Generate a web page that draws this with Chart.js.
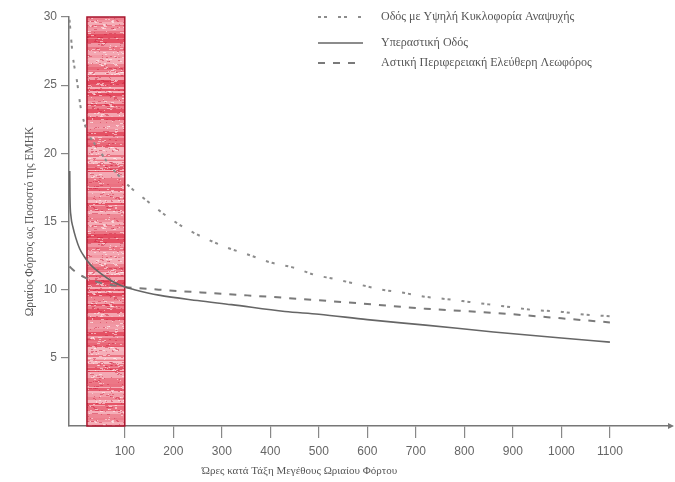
<!DOCTYPE html>
<html>
<head>
<meta charset="utf-8">
<script src="https://cdn.jsdelivr.net/npm/chart.js@4.4.1/dist/chart.umd.min.js"></script>
<style>
  html, body { margin: 0; padding: 0; background: #fff; }
  #wrap { width: 675px; height: 482px; }
</style>
</head>
<body>
<div id="wrap"><canvas id="loadChart"></canvas></div>
<script>
// series labels
const seriesNames = [
  "Οδός με Υψηλή Κυκλοφορία Αναψυχής",
  "Υπεραστική Οδός",
  "Αστική Περιφερειακή Ελεύθερη Λεωφόρος"
];

// Οδός με Υψηλή Κυκλοφορία Αναψυχής
const recreationHours = [-14, -7, 1, 11, 50, 100, 150, 190, 230, 270, 310, 360, 400, 450, 490, 530, 580, 630, 670, 715, 765, 810, 855, 900, 945, 995, 1040, 1100];
const recreationLoad = [29.8, 27.1, 25.4, 23.0, 20.1, 17.9, 16.4, 15.3, 14.4, 13.7, 13.1, 12.5, 12.0, 11.6, 11.1, 10.8, 10.4, 10.0, 9.8, 9.5, 9.3, 9.1, 8.9, 8.7, 8.5, 8.4, 8.2, 8.05];

// Υπεραστική Οδός
const ruralHours = [-13.5, -13, -11, -7, -1, 7, 17, 30, 50, 75, 100, 120, 170, 250, 320, 430, 500, 600, 720, 860, 1000, 1100];
const ruralLoad = [18.7, 16.8, 15.4, 14.6, 13.8, 13.0, 12.4, 11.8, 11.2, 10.6, 10.2, 10.0, 9.6, 9.2, 8.9, 8.4, 8.2, 7.8, 7.4, 6.9, 6.45, 6.15];

// Αστική Περιφερειακή Ελεύθερη Λεωφόρος
const urbanHours = [-14, -5, 17, 50, 100, 170, 300, 430, 600, 720, 860, 1000, 1100];
const urbanLoad = [11.7, 11.4, 10.9, 10.5, 10.2, 10.0, 9.7, 9.4, 8.95, 8.6, 8.3, 7.9, 7.6];

// shaded band of hours and axis ticks
const bandHours = [22, 100];
const xTickValues = [100, 200, 300, 400, 500, 600, 700, 800, 900, 1000, 1100];
const yTickValues = [5, 10, 15, 20, 25, 30];

const xTitle = "Ώρες κατά Τάξη Μεγέθους Ωριαίου Φόρτου";
const yTitle = "Ωριαίος Φόρτος ως Ποσοστό της ΕΜΗΚ";

function toPoints(xs, ys) {
  return xs.map((x, i) => ({ x: x, y: ys[i] }));
}

// texture for the red band (just decoration)
function makeBandPattern(ctx) {
  const c = document.createElement("canvas");
  c.width = 40; c.height = 200;
  const g = c.getContext("2d");
  g.fillStyle = "rgb(228,72,92)";
  g.fillRect(0, 0, 40, 200);
  let seed = 11;
  const rnd = () => { seed = (seed * 9301 + 49297) % 233280; return seed / 233280; };
  let y = 0;
  while (y < 200) {
    const h = 1 + Math.floor(rnd() * 4);
    const a = rnd() * 0.75;
    g.fillStyle = "rgba(255,235,238," + a.toFixed(2) + ")";
    g.fillRect(0, y, 40, h);
    y += h;
  }
  for (let i = 0; i < 700; i++) {
    const r = rnd();
    g.fillStyle = r > 0.55 ? "rgba(255,245,245,0.55)" : "rgba(205,30,60,0.45)";
    g.fillRect(Math.floor(rnd() * 40), Math.floor(rnd() * 200), 1 + Math.floor(rnd() * 3), 1);
  }
  return ctx.createPattern(c, "repeat");
}

const bandPlugin = {
  id: "band",
  beforeDatasetsDraw(chart) {
    const { ctx, scales } = chart;
    const x1 = scales.x.getPixelForValue(bandHours[0]);
    const x2 = scales.x.getPixelForValue(bandHours[1]);
    const y1 = scales.y.getPixelForValue(30);
    const y2 = scales.y.getPixelForValue(0);
    ctx.save();
    ctx.fillStyle = makeBandPattern(ctx);
    ctx.fillRect(x1, y1, x2 - x1, y2 - y1);
    ctx.strokeStyle = "#a8142c";
    ctx.lineWidth = 1.5;
    ctx.strokeRect(x1, y1, x2 - x1, y2 - y1);
    ctx.restore();
  }
};

const extrasPlugin = {
  id: "extras",
  afterDraw(chart) {
    const { ctx, chartArea, scales } = chart;
    ctx.save();
    // arrow at end of x axis
    const ay = scales.y.getPixelForValue(0);
    ctx.fillStyle = "#777";
    ctx.beginPath();
    ctx.moveTo(chartArea.right + 2, ay);
    ctx.lineTo(chartArea.right - 4, ay - 3);
    ctx.lineTo(chartArea.right - 4, ay + 3);
    ctx.closePath();
    ctx.fill();

    // x axis title
    ctx.fillStyle = "#555";
    ctx.font = "11px 'Liberation Serif'";
    ctx.textAlign = "center";
    ctx.textBaseline = "middle";
    ctx.fillText(xTitle, scales.x.getPixelForValue(460), 471);

    // legend
    ctx.font = "12px 'Liberation Serif'";
    ctx.textAlign = "left";
    const rows = [17, 43, 63];
    chart.data.datasets.forEach((ds, i) => {
      const y = rows[i];
      ctx.strokeStyle = ds.borderColor;
      ctx.lineWidth = ds.borderWidth;
      ctx.setLineDash(ds.borderDash || []);
      ctx.beginPath();
      ctx.moveTo(318, y);
      ctx.lineTo(363, y);
      ctx.stroke();
      ctx.setLineDash([]);
      ctx.fillStyle = "#555";
      ctx.fillText(ds.label, 381, y);
    });
    ctx.restore();
  }
};

const ctx = document.getElementById("loadChart").getContext("2d");
new Chart(ctx, {
  type: "line",
  data: {
    datasets: [
      {
        label: seriesNames[0],
        data: toPoints(recreationHours, recreationLoad),
        borderColor: "#8c8c8c",
        borderWidth: 2,
        borderDash: [3, 3, 3, 11],
        pointRadius: 0,
        cubicInterpolationMode: "monotone"
      },
      {
        label: seriesNames[1],
        data: toPoints(ruralHours, ruralLoad),
        borderColor: "#666",
        borderWidth: 1.6,
        pointRadius: 0,
        cubicInterpolationMode: "monotone"
      },
      {
        label: seriesNames[2],
        data: toPoints(urbanHours, urbanLoad),
        borderColor: "#7a7a7a",
        borderWidth: 2,
        borderDash: [7, 8],
        pointRadius: 0,
        cubicInterpolationMode: "monotone"
      }
    ]
  },
  options: {
    responsive: true,
    maintainAspectRatio: false,
    animation: false,
    layout: { padding: { left: 23, top: 17, right: 3, bottom: 0 } },
    plugins: {
      legend: { display: false },
      tooltip: { enabled: false }
    },
    scales: {
      x: {
        type: "linear",
        min: -15,
        max: 1228,
        afterBuildTicks(scale) {
          scale.ticks = xTickValues.map(v => ({ value: v }));
        },
        afterFit(scale) { scale.height = 56; },
        grid: { drawOnChartArea: false, tickLength: 12, color: "#888", lineWidth: 1.2 },
        border: { color: "#777", width: 1.5 },
        ticks: {
          color: "#666",
          padding: 6,
          maxRotation: 0,
          autoSkip: false,
          callback: v => String(v),
          font: { family: "'Liberation Sans'", size: 12 }
        }
      },
      y: {
        min: 0,
        max: 30,
        afterBuildTicks(scale) {
          scale.ticks = yTickValues.map(v => ({ value: v }));
        },
        afterFit(scale) { scale.width = 46; },
        grid: { drawOnChartArea: false, tickLength: 8, color: "#888", lineWidth: 1.2 },
        border: { color: "#777", width: 1.5 },
        title: {
          display: true,
          text: yTitle,
          color: "#555",
          padding: { top: 0, bottom: 0 },
          font: { family: "'Liberation Serif'", size: 11.5 }
        },
        ticks: {
          color: "#666",
          padding: 4,
          font: { family: "'Liberation Sans'", size: 12 }
        }
      }
    }
  },
  plugins: [bandPlugin, extrasPlugin]
});
</script>
</body>
</html>
